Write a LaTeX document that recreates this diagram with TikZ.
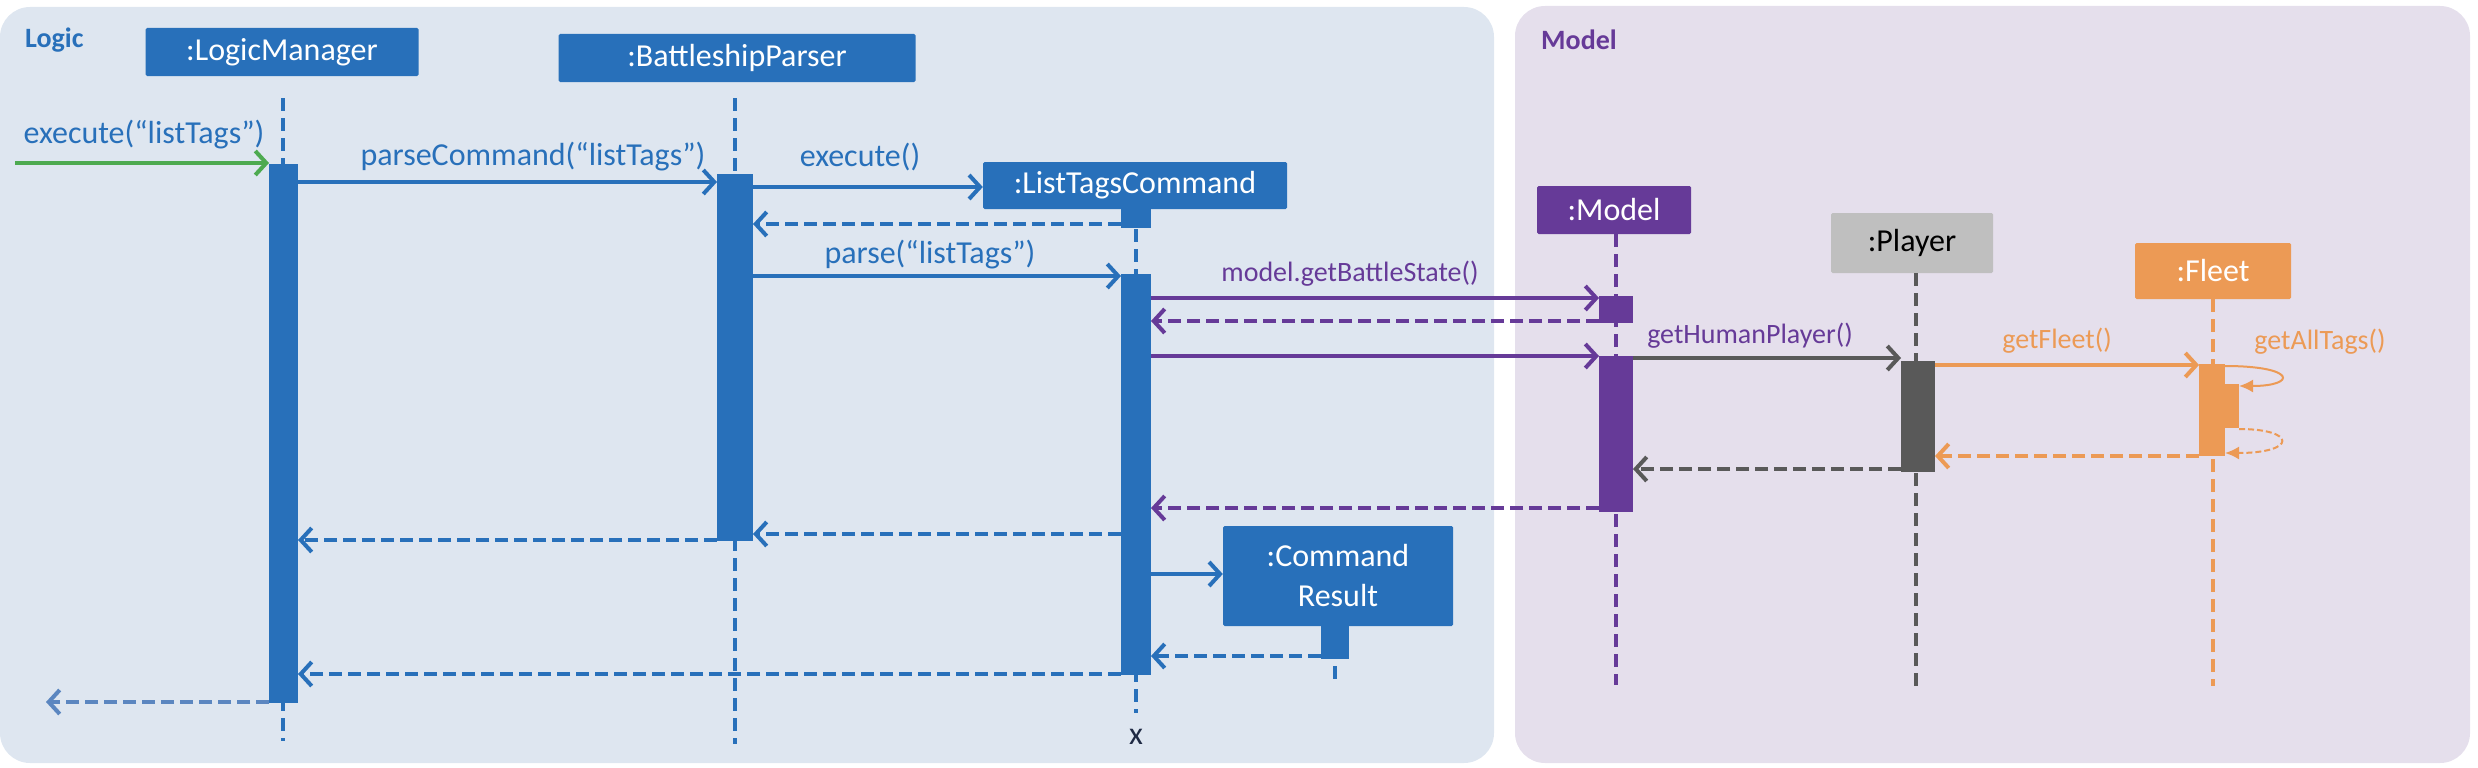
\documentclass[tikz,border=0pt]{standalone}
\usepackage{fontspec}
\setmainfont{Carlito}
\usetikzlibrary{arrows.meta}
\definecolor{lbg}{HTML}{DEE6F0}
\definecolor{mbg}{HTML}{E5DFEC}
\definecolor{cblue}{HTML}{2870BA}
\definecolor{cpurple}{HTML}{663A98}
\definecolor{cgray}{HTML}{595959}
\definecolor{cpgray}{HTML}{BFBFBF}
\definecolor{corange}{HTML}{EC9A55}
\definecolor{cgreen}{HTML}{4DAA50}
\definecolor{clblue}{HTML}{5B86C0}
\definecolor{cnavy}{HTML}{1F2A44}
\begin{document}
\begin{tikzpicture}[x=1pt,y=-1pt,
  obj/.style={fill=#1, text=white, inner sep=0pt, font=\fontsize{32}{40}\selectfont, rounded corners=1.5pt},
  act/.style={fill=#1, inner sep=0pt, outer sep=0pt},
  life/.style={draw=#1, line width=4pt, dash pattern=on 13pt off 7pt},
  msg/.style={draw=#1, line width=4pt, -{Straight Barb[length=11pt,width=24pt]}},
  ret/.style={msg=#1, dash pattern=on 13pt off 6pt},
  lbl/.style={text=#1, inner sep=0pt, font=\fontsize{32}{38}\selectfont},
  slbl/.style={text=#1, inner sep=0pt, font=\fontsize{28}{34}\selectfont},
  plbl/.style={text=#1, inner sep=0pt, anchor=base west, font=\bfseries\fontsize{28}{34}\selectfont},
  selfcall/.style={draw=corange, line width=2pt, -{Latex[length=14pt,width=13pt]}},
]
\useasboundingbox (0,0) rectangle (2478,768);
% panels
\fill[lbg, rounded corners=30pt] (0,7) rectangle (1494,763);
\fill[mbg, rounded corners=30pt] (1515,6) rectangle (2470,763);
\node[plbl=cblue] (logiclbl) at (25,48) {Logic};
\node[plbl=cpurple] (modellbl) at (1541,49) {Model};

% object boxes
\node[obj=cblue, minimum width=273pt, minimum height=48pt] (lm) at (282,52) {:LogicManager};
\node[obj=cblue, minimum width=357pt, minimum height=48pt] (bp) at (737,58) {:BattleshipParser};
\node[obj=cblue, minimum width=304pt, minimum height=47pt] (ltc) at (1135,185.5) {:ListTagsCommand};
\node[obj=cpurple, minimum width=154pt, minimum height=48pt] (mo) at (1614,210) {:Model};
\node[obj=cpgray, text=black, minimum width=162pt, minimum height=60pt] (pl) at (1912,243) {:Player};
\node[obj=corange, minimum width=156pt, minimum height=56pt] (fl) at (2213,271) {:Fleet};
\node[obj=cblue, minimum width=230pt, minimum height=100pt, align=center, font=\fontsize{32}{40}\selectfont] (cr) at (1338,576) {:Command\\Result};

% lifeline ends
\coordinate (lmEnd) at (283,741);
\coordinate (bpEnd) at (735,744);
\coordinate (ltcEnd) at (1136,713);
\coordinate (moEnd) at (1616,685);
\coordinate (plEnd) at (1916,691);
\coordinate (flEnd) at (2213,686);
\coordinate (crEnd) at (1335,685);

% lifelines
\draw[life=cblue] (lm.south -| lmEnd) ++(0,22) -- (lmEnd);
\draw[life=cblue] (bp.south -| bpEnd) ++(0,16) -- (bpEnd);
\draw[life=cblue] (ltc.south -| ltcEnd) -- (ltcEnd);
\draw[life=cpurple] (mo.south -| moEnd) -- (moEnd);
\draw[life=cgray] (pl.south -| plEnd) -- (plEnd);
\draw[life=corange] (fl.south -| flEnd) -- (flEnd);
\draw[life=cblue] (cr.south -| crEnd) -- (crEnd);
\node[lbl=cnavy] (destroy) at (1136,737) {x};

% activations
\node[act=cblue, minimum width=29pt, minimum height=539pt] (lma) at (283.5,433.5) {};
\node[act=cblue, minimum width=36pt, minimum height=367pt] (bpa) at (735,357.5) {};
\node[act=cblue, minimum width=30pt, minimum height=19pt] (ltc0) at (1136,218.5) {};
\node[act=cblue, minimum width=30pt, minimum height=401pt] (ltca) at (1136,474.5) {};
\node[act=cpurple, minimum width=34pt, minimum height=27pt] (ma1) at (1616,309.5) {};
\node[act=cpurple, minimum width=34pt, minimum height=156pt] (ma2) at (1616,434) {};
\node[act=cgray, minimum width=34pt, minimum height=111pt] (pa) at (1918,416.5) {};
\node[act=corange, minimum width=26pt, minimum height=92pt] (fa) at (2212,410) {};
\node[act=corange, minimum width=14pt, minimum height=44pt] (fa2) at (2232,406) {};
\node[act=cblue, minimum width=28pt, minimum height=33pt] (cra) at (1335,642.5) {};

% messages
\coordinate (start) at (15,163);
\coordinate (finish) at (46,702);
\draw[msg=cgreen] (start) -- (lma.west |- start);
\node[lbl=cblue] (l1) at (144,135) {execute(“listTags”)};
\draw[msg=cblue] (lma.east |- 0,182) -- (bpa.west |- 0,182);
\node[lbl=cblue] (l2) at (533,157) {parseCommand(“listTags”)};
\draw[msg=cblue] (bpa.east |- 0,187) -- (ltc.west |- 0,187);
\node[lbl=cblue] (l3) at (860,157) {execute()};
\draw[ret=cblue] (ltc0.west |- 0,224) -- (bpa.east |- 0,224);
\draw[msg=cblue] (bpa.east |- 0,276) -- (ltca.west |- 0,276);
\node[lbl=cblue] (l4) at (930,255) {parse(“listTags”)};
\draw[msg=cpurple] (ltca.east |- 0,298) -- (ma1.west |- 0,298);
\node[slbl=cpurple] (l5) at (1350,274) {model.getBattleState()};
\draw[ret=cpurple] (ma1.west |- 0,321) -- (ltca.east |- 0,321);
\draw[msg=cpurple] (ltca.east |- 0,356) -- (ma2.west |- 0,356);
\draw[msg=cgray] (ma2.east |- 0,358) -- (pa.west |- 0,358);
\node[slbl=cpurple] (l6) at (1750,336) {getHumanPlayer()};
\draw[msg=corange] (pa.east |- 0,365) -- (fa.west |- 0,365);
\node[slbl=corange] (l7) at (2057,341) {getFleet()};
\draw[selfcall] (fa.east |- 0,366) .. controls (2297,366) and (2297,386) .. (fa2.east |- 0,386);
\node[slbl=corange] (l8) at (2320,342) {getAllTags()};
\draw[selfcall, dash pattern=on 6pt off 3pt] (fa2.east |- 0,429) .. controls (2297,429) and (2297,453) .. (fa.east |- 0,453);
\draw[ret=corange] (fa.west |- 0,456) -- (pa.east |- 0,456);
\draw[ret=cgray] (pa.west |- 0,469) -- (ma2.east |- 0,469);
\draw[ret=cpurple] (ma2.west |- 0,508) -- (ltca.east |- 0,508);
\draw[ret=cblue] (ltca.west |- 0,534) -- (bpa.east |- 0,534);
\draw[ret=cblue] (bpa.west |- 0,540) -- (lma.east |- 0,540);
\draw[msg=cblue] (ltca.east |- 0,574) -- (cr.west |- 0,574);
\draw[ret=cblue] (cra.west |- 0,656) -- (ltca.east |- 0,656);
\draw[ret=cblue] (ltca.west |- 0,674) -- (lma.east |- 0,674);
\draw[ret=clblue] (lma.west |- finish) -- (finish);
\end{tikzpicture}
\end{document}
